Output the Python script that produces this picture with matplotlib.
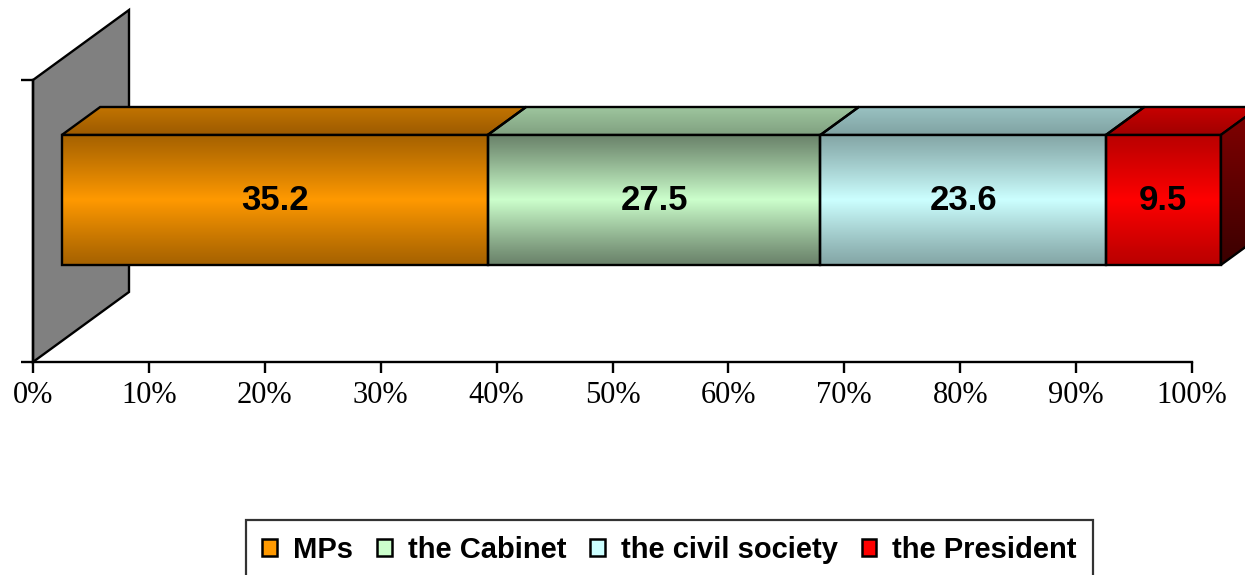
import numpy as np
import matplotlib
matplotlib.use('Agg')
import matplotlib.pyplot as plt
from matplotlib.patches import Polygon, Rectangle
from matplotlib.colors import to_rgb

# data
categories = ['MPs', 'the Cabinet', 'the civil society', 'the President']
values = [35.2, 27.5, 23.6, 9.5]
xticks = list(range(0, 101, 10))
xticklabels = [f'{t}%' for t in xticks]

# colours (bright middle of the front face, dark edge, top face, legend swatch)
front_light = ['#FF9900', '#CCFFCC', '#CCFFFF', '#FF0000']
front_dark = ['#A66200', '#6A826A', '#84A6A6', '#BA0000']
top_back = ['#C27400', '#9EC69E', '#9AC2C2', '#C80000']
top_front = ['#9C5A00', '#80A080', '#7FA2A2', '#A00000']
side_top, side_bottom = '#840000', '#3A0000'
wall_color = '#808080'

# pixel geometry of the reference
W, H = 1245, 575
X0_PX, X100_PX = 33, 1192
PX = (X100_PX - X0_PX) / 100.0      # pixels per percent
Y_BOT, Y_TOP = 362, 80
PY = Y_BOT - Y_TOP                   # pixels per category unit
DX = 96 / PX                         # depth offset in data units
DY = 70 / PY
F0, F1 = 0.30, 0.70                  # bar front / back depth
HALF = 0.2305                        # half bar height
LW = 1.7


def proj(x, y, d):
    return (x + d * DX, y + d * DY)


def grad_fill(ax, verts, c_a, c_b, mid=False, z=2):
    verts = np.array(verts)
    x0, x1 = verts[:, 0].min(), verts[:, 0].max()
    y0, y1 = verts[:, 1].min(), verts[:, 1].max()
    t = np.linspace(0, 1, 256)
    if mid:
        w = np.clip(1 - np.abs(2 * t - 1), 0, 1) ** 1.1
    else:
        w = t
    col = (1 - w)[:, None] * np.array(to_rgb(c_a)) + w[:, None] * np.array(to_rgb(c_b))
    img = col[:, None, :]
    im = ax.imshow(img, extent=[x0, x1, y0, y1], origin='lower', aspect='auto',
                   interpolation='bilinear', zorder=z)
    poly = Polygon(verts, closed=True, fc='none', ec='black', lw=LW, zorder=z + 0.1)
    ax.add_patch(poly)
    im.set_clip_path(poly)


fig = plt.figure(figsize=(W / 100, H / 100), dpi=100)
ax = fig.add_axes([0, 0, 1, 1])

# back wall
wall = Polygon([proj(0, -0.5, 0), proj(0, -0.5, 1), proj(0, 0.5, 1), proj(0, 0.5, 0)],
               closed=True, fc=wall_color, ec='black', lw=LW, zorder=1)
ax.add_patch(wall)

pct = np.array(values) / np.sum(values) * 100
lefts = np.concatenate([[0], np.cumsum(pct)[:-1]])

for i, (l, p) in enumerate(zip(lefts, pct)):
    r = l + p
    # top face
    top = [proj(l, HALF, F0), proj(r, HALF, F0), proj(r, HALF, F1), proj(l, HALF, F1)]
    grad_fill(ax, top, top_front[i], top_back[i], z=2)
    # front face
    front = [proj(l, -HALF, F0), proj(r, -HALF, F0), proj(r, HALF, F0), proj(l, HALF, F0)]
    grad_fill(ax, front, front_dark[i], front_light[i], mid=True, z=3)
    cx, cy = proj((l + r) / 2, 0, F0)
    ax.text(cx, cy, f'{values[i]}', ha='center', va='center', fontsize=25,
            fontweight='bold', family='Liberation Sans', zorder=5)

# right end face of the last segment
end = lefts[-1] + pct[-1]
side = [proj(end, -HALF, F0), proj(end, -HALF, F1), proj(end, HALF, F1), proj(end, HALF, F0)]
grad_fill(ax, side, side_bottom, side_top, z=3)

ax.set_xlim(-X0_PX / PX, (W - X0_PX) / PX)
ax.set_ylim(-0.5 - (H - Y_BOT) / PY, 0.5 + Y_TOP / PY)

for s in ['top', 'right']:
    ax.spines[s].set_visible(False)
ax.spines['bottom'].set_position(('data', -0.5))
ax.spines['bottom'].set_bounds(0, 100)
ax.spines['left'].set_position(('data', 0))
ax.spines['left'].set_bounds(-0.5, 0.5)
for s in ['bottom', 'left']:
    ax.spines[s].set_linewidth(LW)
    ax.spines[s].set_zorder(4)

ax.set_xticks(xticks)
ax.set_xticklabels(xticklabels, fontsize=22, family='Liberation Serif')
ax.set_yticks([-0.5, 0.5])
ax.set_yticklabels([])
ax.tick_params(axis='x', direction='out', length=8, width=LW, pad=6)
ax.tick_params(axis='y', direction='out', length=9, width=LW)
ax.set_facecolor('white')

handles = [Rectangle((0, 0), 1, 1, fc=c, ec='black', lw=1.8) for c in front_light]
leg = fig.legend(handles, categories, loc='upper center',
                 bbox_to_anchor=((247 + 1092) / 2 / W, 1 - 520 / H), ncol=4,
                 frameon=True, fancybox=False, edgecolor='black',
                 prop={'family': 'Liberation Sans', 'weight': 'bold', 'size': 21},
                 handlelength=0.5, handleheight=0.5, handletextpad=0.55,
                 columnspacing=0.82, borderpad=0.55, borderaxespad=0)
leg.get_frame().set_linewidth(1.6)

fig.savefig('out.png', dpi=100)
